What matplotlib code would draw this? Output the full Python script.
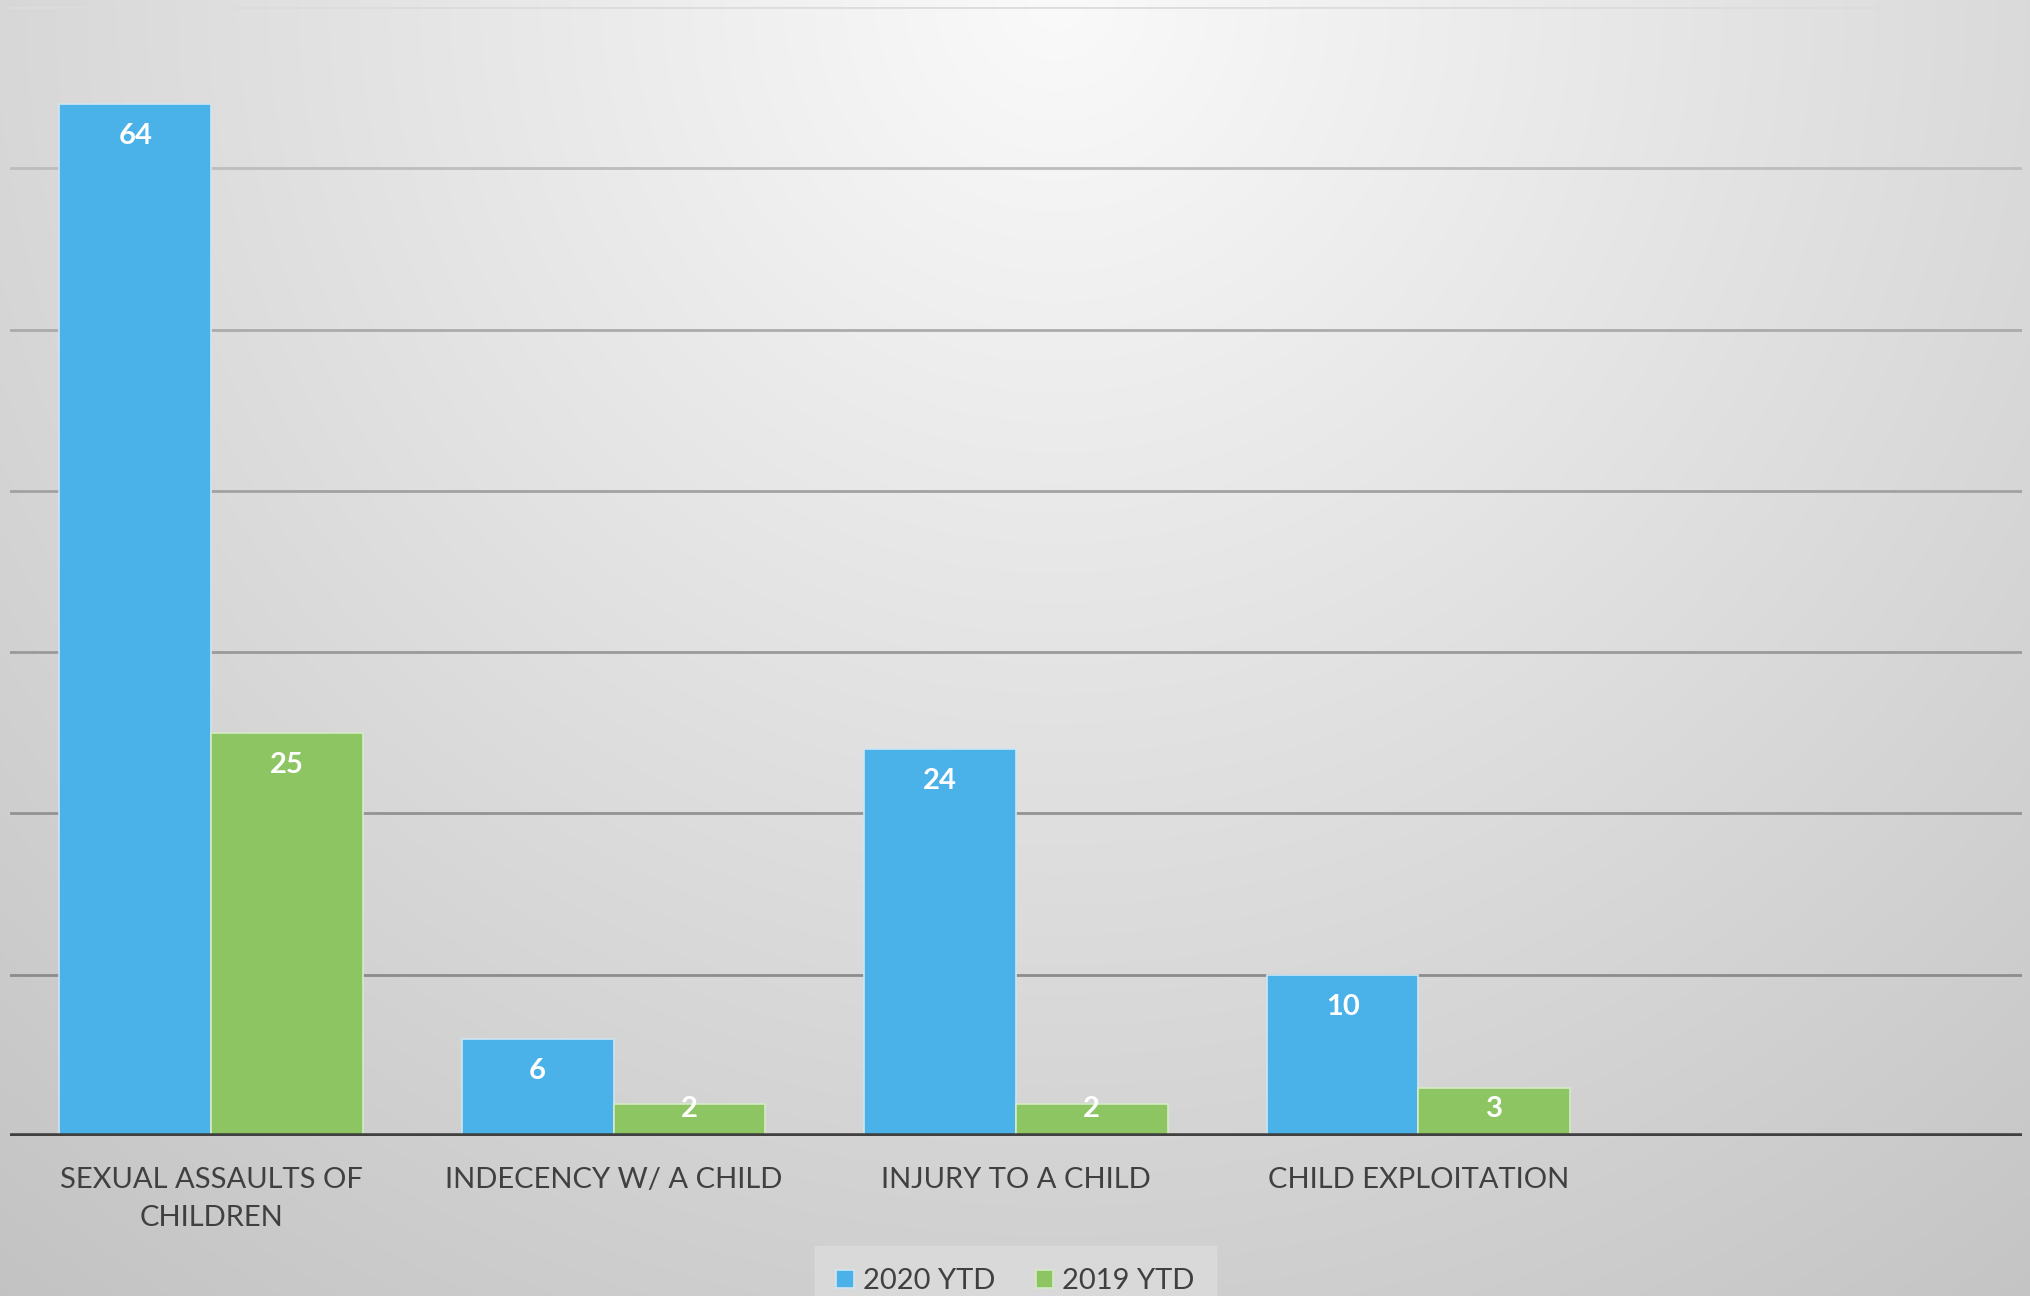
import numpy as np
import matplotlib
matplotlib.use('Agg')
import matplotlib.pyplot as plt

plt.rcParams['font.family'] = ['Lato', 'DejaVu Sans']

categories = ['SEXUAL ASSAULTS OF\nCHILDREN', 'INDECENCY W/ A CHILD',
              'INJURY TO A CHILD', 'CHILD EXPLOITATION', '']
ytd_2020 = [64, 6, 24, 10, None]
ytd_2019 = [25, 2, 2, 3, None]
series_names = ['2020 YTD', '2019 YTD']
y_ticks = [0, 10, 20, 30, 40, 50, 60, 70]

blue = '#4AB2E8'
green = '#8DC563'

fig = plt.figure(figsize=(20.31, 12.96), dpi=100)

# radial grey background, bright at top centre
bg = fig.add_axes([0, 0, 1, 1], zorder=-10)
h, w = 1296, 2031
yy, xx = np.mgrid[0:h, 0:w]
dx = xx / w - 0.52
dy = yy / h
val = 250 - np.sqrt((67 * dx) ** 2 + (43 * dy) ** 2)
val = np.clip(val, 185, 252) / 255.0
bg.imshow(np.dstack([val, val, val]), aspect='auto', extent=[0, 1, 0, 1])
bg.set_axis_off()

ax = fig.add_axes([10 / 2031, 1 - 1136 / 1296, 2012 / 2031, 1129 / 1296])
ax.patch.set_alpha(0)

x = np.arange(len(categories))
bw = 0.377
v20 = [np.nan if v is None else v for v in ytd_2020]
v19 = [np.nan if v is None else v for v in ytd_2019]
b1 = ax.bar(x - bw / 2, v20, bw, color=blue, edgecolor='#CFE6F2', linewidth=1.2,
            label=series_names[0], zorder=3)
b2 = ax.bar(x + bw / 2, v19, bw, color=green, edgecolor='#D5EBC6', linewidth=1.2,
            label=series_names[1], zorder=3)

# labels sit just inside the bar end, but not lower than a minimum height
for bars, vals in [(b1, ytd_2020), (b2, ytd_2019)]:
    for rect, v in zip(bars, vals):
        if v is None:
            continue
        ly = max(v - 2.0, 1.7)
        ax.text(rect.get_x() + rect.get_width() / 2, ly, str(v),
                ha='center', va='center', color='white',
                fontsize=21, fontweight='bold', zorder=5)

# grid lines, lighter towards the top
grid_cols = ['#8C8C8C', '#939393', '#9A9A9A', '#A2A2A2', '#ABABAB', '#BDBDBD', '#DCDCDC']
for t, c in zip(y_ticks[1:], grid_cols):
    ax.axhline(t, color=c, linewidth=2, zorder=1)
ax.axhline(0, color='#404040', linewidth=4, zorder=4)

ax.set_xlim(-0.5, len(categories) - 0.5)
ax.set_ylim(0, 70)
ax.set_yticks(y_ticks)
ax.set_yticklabels([])
ax.tick_params(axis='y', length=0)
ax.set_xticks(x)
ax.set_xticklabels(categories, fontsize=21, color='#404040', linespacing=1.6)
ax.tick_params(axis='x', length=0, pad=22)
for s in ax.spines.values():
    s.set_visible(False)

leg = fig.legend(handles=[b1, b2], loc='lower center', bbox_to_anchor=(0.5, -0.02),
                 ncol=2, frameon=True, fontsize=21, handlelength=0.6,
                 handleheight=0.6, handletextpad=0.3, columnspacing=1.4,
                 borderpad=0.45)
leg.get_frame().set_facecolor('#DCDCDC')
leg.get_frame().set_edgecolor('#DCDCDC')
leg.get_frame().set_boxstyle('square')
for t in leg.get_texts():
    t.set_color('#404040')

fig.savefig('out.png', dpi=100)
